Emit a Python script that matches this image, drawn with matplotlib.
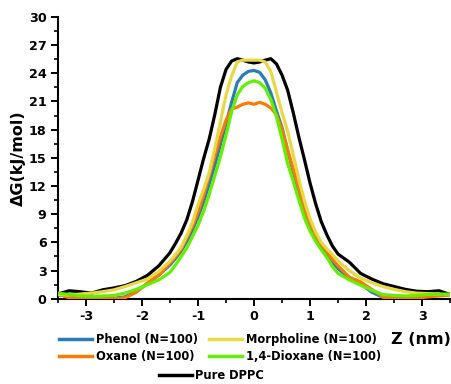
import matplotlib
matplotlib.use("Agg")
import matplotlib.pyplot as plt
from matplotlib.ticker import MultipleLocator
from matplotlib.lines import Line2D

plt.rcParams['font.family'] = ['DejaVu Sans']
plt.rcParams['axes.unicode_minus'] = False

Z = [-3.5, -3.3, -3.1, -2.9, -2.7, -2.5, -2.3, -2.1, -1.9, -1.7,
     -1.5, -1.4, -1.3, -1.2, -1.1, -1.0, -0.9, -0.8, -0.7, -0.6, -0.5, -0.4, -0.3, -0.2, -0.1,
     0.0, 0.1, 0.2, 0.3, 0.4, 0.5, 0.6, 0.7, 0.8, 0.9, 1.0, 1.1, 1.2, 1.3, 1.4, 1.5,
     1.7, 1.9, 2.1, 2.3, 2.5, 2.7, 2.9, 3.1, 3.3, 3.5]

dppc = [0.5, 0.85, 0.75, 0.6, 0.95, 1.15, 1.4, 1.85, 2.5, 3.5,
        4.9, 5.9, 7.0, 8.4, 10.3, 12.6, 14.9, 17.0, 19.6, 22.5, 24.4, 25.3, 25.55, 25.4, 25.2,
        25.1, 25.2, 25.4, 25.55, 25.0, 23.8, 22.2, 19.8, 17.2, 14.8, 12.3, 10.1, 8.2, 6.8, 5.6, 4.75,
        3.9, 2.7, 2.1, 1.6, 1.3, 1.0, 0.8, 0.75, 0.85, 0.45]

morpholine = [0.45, 0.4, 0.5, 0.6, 0.75, 0.95, 1.3, 1.7, 2.1, 2.9,
              4.0, 4.7, 5.5, 6.7, 8.1, 10.0, 11.6, 13.4, 16.0, 18.8, 21.7, 23.7, 25.2, 25.4, 25.4,
              25.4, 25.4, 25.2, 24.2, 22.0, 19.8, 17.8, 15.3, 12.7, 10.4, 8.5, 7.1, 6.0, 5.3, 4.7, 4.0,
              3.0, 2.2, 1.7, 1.3, 1.0, 0.75, 0.6, 0.55, 0.5, 0.45]

phenol = [0.4, 0.3, 0.3, 0.2, 0.1, 0.05, 0.2, 0.8, 1.6, 2.5,
          3.6, 4.3, 5.1, 6.1, 7.3, 8.7, 10.3, 12.2, 14.2, 16.4, 18.6, 20.9, 23.0, 23.8, 24.2,
          24.3, 24.1, 23.3, 21.9, 20.0, 18.2, 15.8, 13.5, 11.4, 9.2, 7.6, 6.5, 5.5, 4.7, 3.9, 3.2,
          2.2, 1.6, 0.7, 0.15, 0.05, 0.1, 0.2, 0.3, 0.4, 0.45]

oxane = [0.5, 0.1, 0.0, 0.0, 0.0, 0.0, 0.1, 0.7, 1.7, 2.5,
         3.8, 4.5, 5.3, 6.5, 7.7, 9.2, 11.0, 13.1, 15.2, 17.2, 19.0, 20.2, 20.4, 20.7, 20.85,
         20.7, 20.9, 20.7, 20.3, 19.6, 18.0, 15.8, 13.8, 11.8, 9.6, 8.0, 6.8, 5.8, 5.0, 4.2, 3.5,
         2.3, 1.8, 1.0, 0.2, 0.0, 0.0, 0.05, 0.2, 0.3, 0.4]

dioxane = [0.6, 0.45, 0.3, 0.25, 0.3, 0.35, 0.6, 1.0, 1.5, 2.0,
           2.8, 3.6, 4.5, 5.4, 6.6, 7.8, 9.3, 11.1, 13.1, 15.1, 17.4, 19.9, 21.7, 22.6, 23.0,
           23.2, 23.0, 22.4, 21.2, 19.4, 17.0, 14.4, 12.5, 10.5, 8.6, 7.2, 6.1, 5.2, 4.4, 3.4, 2.7,
           2.0, 1.45, 0.9, 0.45, 0.35, 0.3, 0.35, 0.45, 0.45, 0.5]

labels = ["Phenol (N=100)", "Oxane (N=100)", "Morpholine (N=100)", "1,4-Dioxane (N=100)", "Pure DPPC"]
colors = {"blue": "#2a7bb8", "orange": "#ff7a00", "yellow": "#e6d944", "green": "#62f000", "black": "#000000"}

fig = plt.figure(figsize=(4.52, 3.84), dpi=100)
ax = fig.add_axes([0.128, 0.222, 0.868, 0.734])

lw = 2.3
ax.plot(Z, dppc, color=colors["black"], lw=lw, zorder=2)
ax.plot(Z, phenol, color=colors["blue"], lw=lw, zorder=3)
ax.plot(Z, oxane, color=colors["orange"], lw=lw, zorder=4)
ax.plot(Z, morpholine, color=colors["yellow"], lw=lw, zorder=5)
ax.plot(Z, dioxane, color=colors["green"], lw=lw, zorder=6)

ax.set_xlim(-3.5, 3.5)
ax.set_ylim(0, 30)
ax.xaxis.set_major_locator(MultipleLocator(1))
ax.xaxis.set_minor_locator(MultipleLocator(0.5))
ax.yaxis.set_major_locator(MultipleLocator(3))
ax.yaxis.set_minor_locator(MultipleLocator(1.5))
for s in ["top", "right"]:
    ax.spines[s].set_visible(False)
for s in ["left", "bottom"]:
    ax.spines[s].set_linewidth(1.5)
ax.tick_params(which="major", length=5, width=1.4, direction="out", labelsize=9.2, pad=3)
ax.tick_params(which="minor", length=3, width=1.2, direction="out")
for lab in ax.get_xticklabels() + ax.get_yticklabels():
    lab.set_fontweight("bold")

ax.set_ylabel("ΔG(kJ/mol)", fontsize=11.5, fontweight="bold", labelpad=2)
fig.text(0.932, 0.115, "Z (nm)", fontsize=11.5, fontweight="bold", ha="center", va="center")

h = [Line2D([], [], color=colors["blue"], lw=2.5),
     Line2D([], [], color=colors["orange"], lw=2.5),
     Line2D([], [], color=colors["yellow"], lw=2.5),
     Line2D([], [], color=colors["green"], lw=2.5)]
leg1 = fig.legend(h, labels[:4], ncol=2, loc="center", bbox_to_anchor=(0.487, 0.093),
                  frameon=False, prop={"weight": "bold", "size": 8.3},
                  handlelength=2.9, handletextpad=0.35, columnspacing=0.9, labelspacing=0.35,
                  borderpad=0)
leg2 = fig.legend([Line2D([], [], color=colors["black"], lw=2.5)], labels[4:], loc="center",
                  bbox_to_anchor=(0.467, 0.021), frameon=False,
                  prop={"weight": "bold", "size": 8.3}, handlelength=2.9, handletextpad=0.2,
                  borderpad=0)

fig.savefig("out.png", dpi=100)
